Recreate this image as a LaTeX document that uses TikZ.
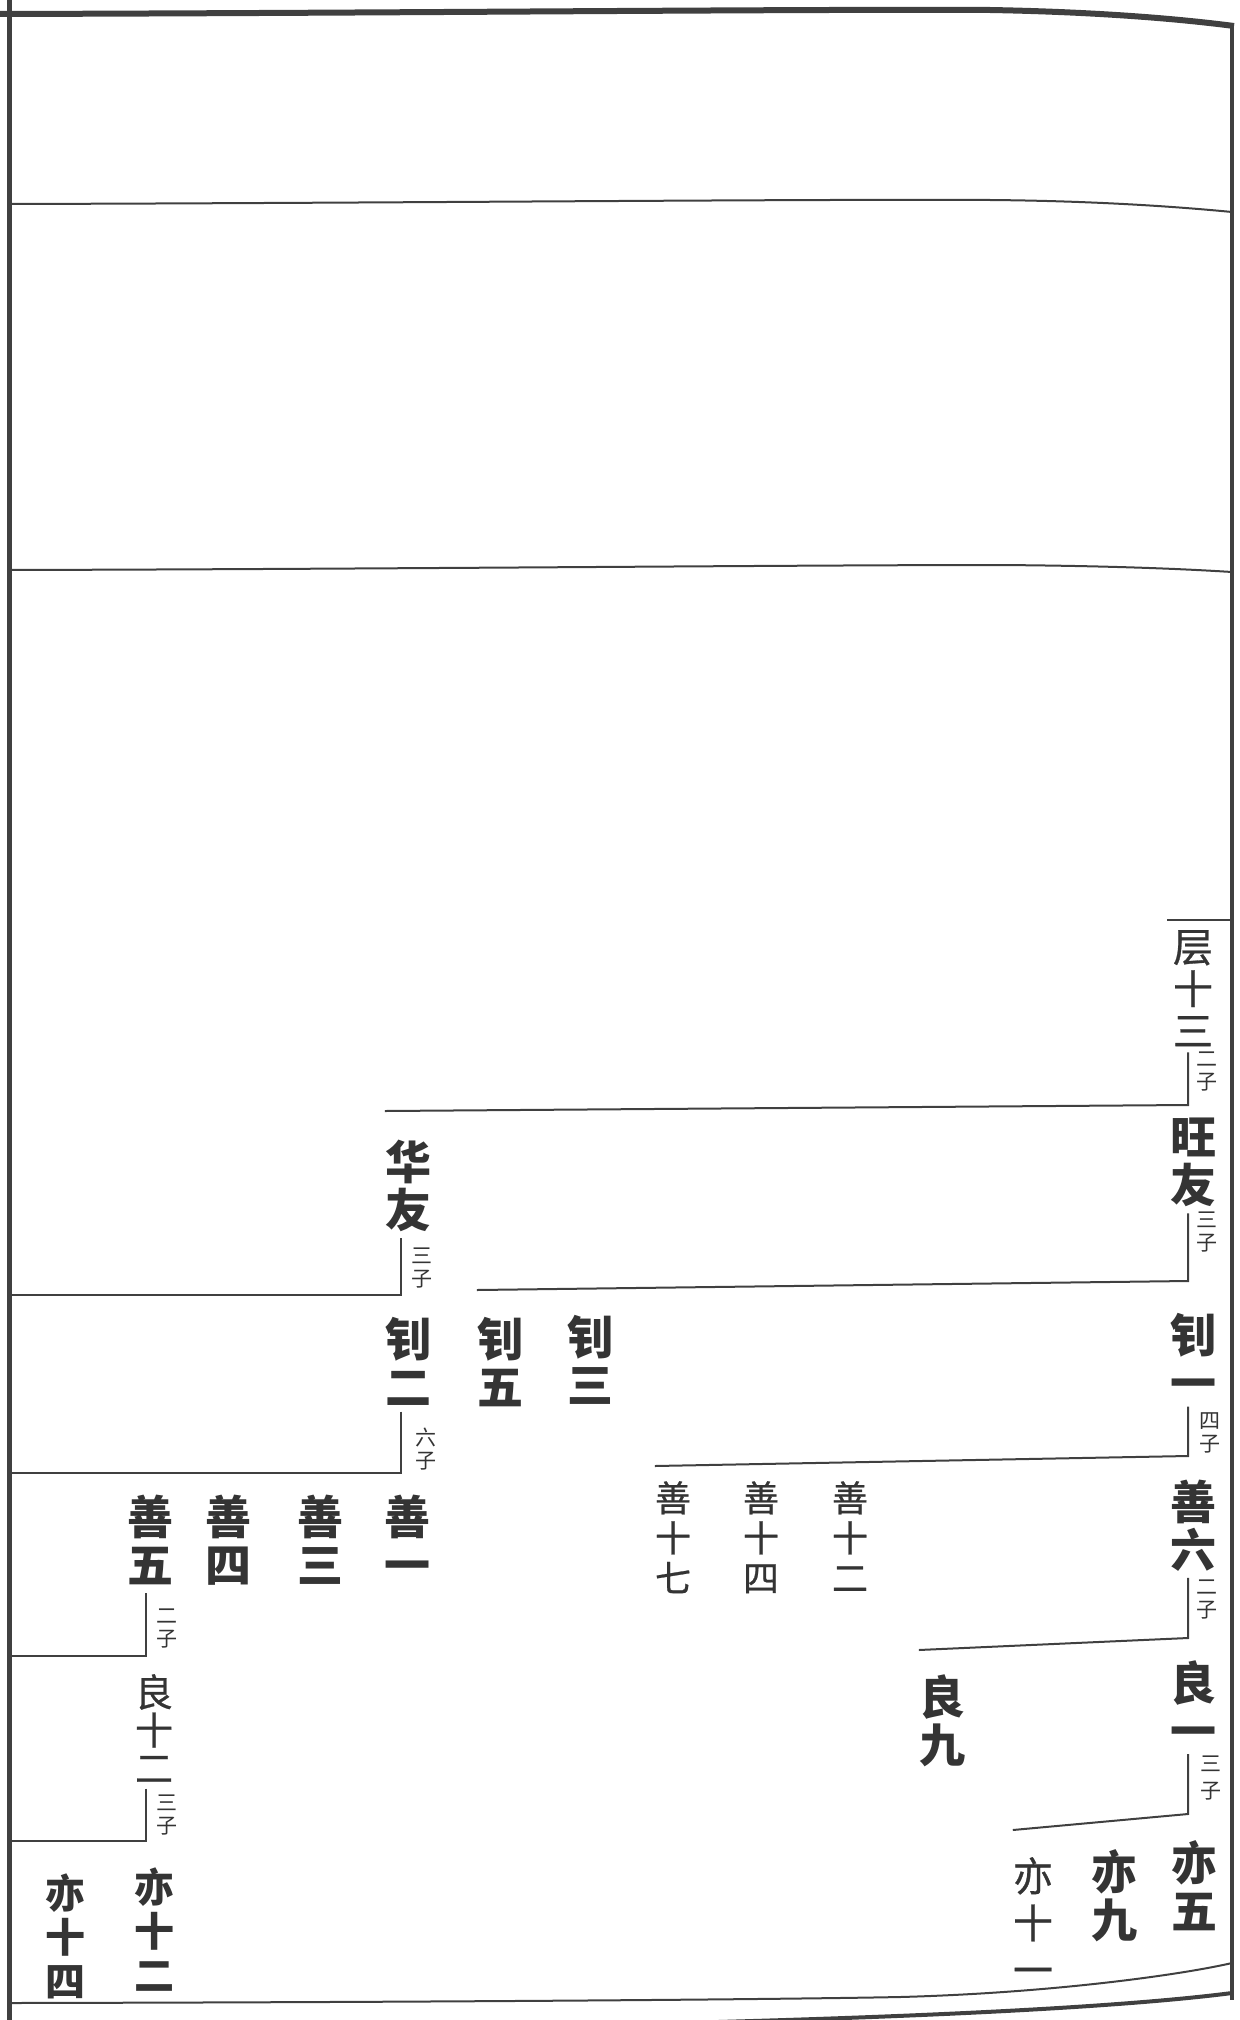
\documentclass[tikz,border=0pt]{standalone}
\usepackage{fontspec}
\usepackage{tikz}
\usetikzlibrary{calc}
\usetikzlibrary{positioning}
\newfontfamily\cjk{Noto Sans CJK SC}
\newfontfamily\cjkmid[FakeBold=0.7]{Noto Sans CJK SC}
\definecolor{inkgray}{RGB}{52, 52, 52}
\definecolor{rulegray}{RGB}{64, 64, 64}

\begin{document}
\begin{tikzpicture}[x=1pt, y=-1pt,
    bigname/.style={anchor=north, inner sep=0pt, align=center, text=inkgray, font=\cjk\bfseries\fontsize{46}{48}\selectfont},
    midname/.style={anchor=north, inner sep=0pt, align=center, text=inkgray, font=\cjk\bfseries\fontsize{40}{44}\selectfont},
    thinname/.style={anchor=north, inner sep=0pt, align=center, text=inkgray, font=\cjkmid\fontsize{40}{42}\selectfont},
    smallname/.style={anchor=north, inner sep=0pt, align=center, text=inkgray, font=\cjkmid\fontsize{36}{40}\selectfont},
    sonnote/.style={anchor=north, inner sep=0pt, align=center, text=inkgray, font=\cjk\fontsize{21}{23}\selectfont},
    link/.style={draw=rulegray, line width=2pt},
    frame/.style={draw=rulegray, line width=2pt}]
            \useasboundingbox (0,0) rectangle (1239,2020);
            % Page frame
            \draw[frame, line width=5pt]   (9,-5) -- (9,2025);
            \draw[frame, line width=4pt]   (1232,24) -- (1232,2000);
            \draw[frame, line width=6pt]   (0,14) .. controls (400,13) and (800,9) .. (990,10) .. controls (1100,12) and (1180,19) .. (1234,26);
            \draw[frame]                   (9,204) .. controls (400,203) and (800,199) .. (990,200) .. controls (1100,201) and (1180,207) .. (1232,212);
            \draw[frame]                   (9,570) .. controls (400,569) and (800,565) .. (1000,565) .. controls (1130,566) and (1200,570) .. (1232,572);
            \draw[frame]                   (9,2003) .. controls (500,2002) and (800,1999) .. (900,1997) .. controls (1050,1993) and (1180,1975) .. (1232,1963);
            \draw[frame, line width=4pt]   (640,2024) .. controls (850,2019) and (1100,2010) .. (1232,1993);

            % Right column
            \node[thinname]  (ceng)        at (1193, 930) {层\\十\\三};
            \node[sonnote]   (ceng-n)      at (1207,1052) {二\\子};
            \node[bigname]   (wangyou)     at (1193,1118) {旺\\友};
            \node[sonnote]   (wangyou-n)   at (1207,1212) {三\\子};
            \node[bigname]   (zhaoyi)      at (1193,1313) {钊\\一};
            \node[sonnote]   (zhaoyi-n)    at (1210,1412) {四\\子};
            \node[bigname]   (shanliu)     at (1193,1480) {善\\六};
            \node[sonnote]   (shanliu-n)   at (1207,1580) {二\\子};
            \node[bigname]   (liangyi)     at (1193,1660) {良\\一};
            \node[sonnote, font=\cjk\fontsize{21}{27}\selectfont] (liangyi-n) at (1211,1756) {三\\子};
            \node[bigname]   (yiwu)        at (1194,1840) {亦\\五};
            \node[bigname]   (yijiu)       at (1114,1849) {亦\\九};
            \node[thinname, font=\cjkmid\fontsize{40}{47}\selectfont] (yishiyi) at (1033,1857) {亦\\十\\一};
            % Middle columns
            \node[bigname]   (liangjiu)    at (942,1674)  {良\\九};
            \node[smallname] (shanshier)   at (850,1481)  {善\\十\\二};
            \node[smallname] (shanshisi)   at (761,1481)  {善\\十\\四};
            \node[smallname] (shanshiqi)   at (673,1481)  {善\\十\\七};
            \node[bigname]   (zhaosan)     at (590,1315)  {钊\\三};
            \node[bigname]   (zhaowu)      at (500,1317)  {钊\\五};
            % Left columns
            \node[bigname]   (huayou)      at (408,1140)  {华\\友};
            \node[sonnote]   (huayou-n)    at (422,1248)  {三\\子};
            \node[bigname]   (zhaoer)      at (408,1317)  {钊\\二};
            \node[sonnote]   (zhaoer-n)    at (426,1428)  {六\\子};
            \node[bigname]   (shanyi)      at (407,1495)  {善\\一};
            \node[bigname]   (shansan)     at (320,1495)  {善\\三};
            \node[bigname]   (shansi)      at (228,1495)  {善\\四};
            \node[bigname]   (shanwu)      at (150,1495)  {善\\五};
            \node[sonnote]   (shanwu-n)    at (167,1609)  {二\\子};
            \node[thinname, font=\cjkmid\fontsize{38}{38}\selectfont] (liangshier) at (154,1674) {良\\十\\二};
            \node[sonnote]   (liangshier-n) at (167,1795) {三\\子};
            \node[midname]   (yishier)     at (154,1868)  {亦\\十\\二};
            \node[midname]   (yishisi)     at (65,1874)   {亦\\十\\四};

            % Bracket corners and page edge ends
            \coordinate (k1) at (1188,1105);
            \coordinate (k2) at (1188,1281);
            \coordinate (k3) at (1188,1456);
            \coordinate (k4) at (1188,1638);
            \coordinate (k5) at (1188,1814);
            \coordinate (k6) at (401,1295);
            \coordinate (k7) at (401,1473);
            \coordinate (k8) at (146,1656);
            \coordinate (k9) at (146,1841);
            \coordinate (e0) at (1232,920);
            \coordinate (e6) at (12,1295);
            \coordinate (e7) at (12,1473);
            \coordinate (e8) at (12,1656);
            \coordinate (e9) at (12,1841);

            % Connectors
            \draw[link] (e0) -- ([xshift=-6pt,yshift=10pt]ceng.north west);
            \draw[link] ([xshift=-5pt,yshift=-6pt]ceng.south)    -- (k1) -- ([yshift=29pt]huayou.north west);
            \draw[link] ([xshift=-5pt,yshift=-6pt]wangyou.south) -- (k2) -- ([yshift=27pt]zhaowu.north west);
            \draw[link] ([xshift=-5pt,yshift=-6pt]zhaoyi.south)  -- (k3) -- ([yshift=15pt]shanshiqi.north west);
            \draw[link] ([xshift=-5pt,yshift=-6pt]shanliu.south) -- (k4) -- ([yshift=24pt]liangjiu.north west);
            \draw[link] ([xshift=-5pt,yshift=-6pt]liangyi.south) -- (k5) -- ([yshift=27pt]yishiyi.north west);
            \draw[link] ([xshift=-7pt,yshift=-6pt]huayou.south)  -- (k6) -- (e6);
            \draw[link] ([xshift=-7pt,yshift=-6pt]zhaoer.south)  -- (k7) -- (e7);
            \draw[link] ([xshift=-4pt,yshift=-8pt]shanwu.south)  -- (k8) -- (e8);
            \draw[link] ([xshift=-8pt,yshift=-6pt]liangshier.south) -- (k9) -- (e9);
        \end{tikzpicture}
\end{document}
